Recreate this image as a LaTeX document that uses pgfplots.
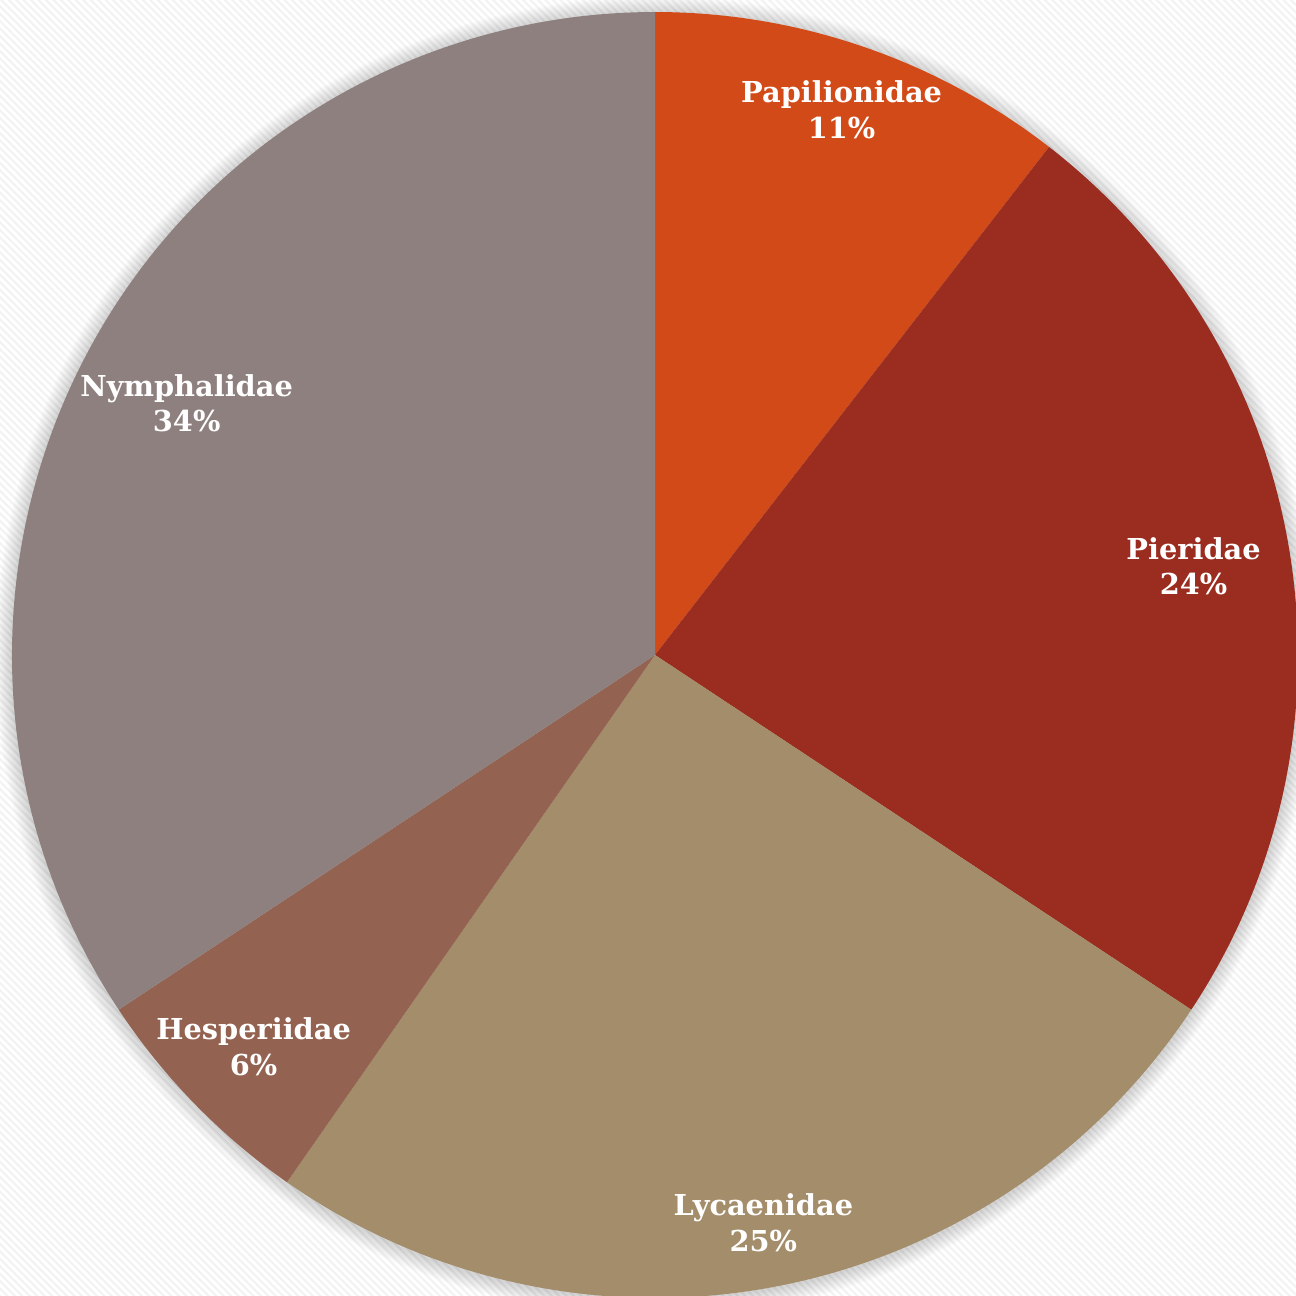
\documentclass[border=0pt]{standalone}
\usepackage{pgfplots}
\usepackage{pgfplotstable}
\pgfplotsset{compat=1.18}
\usepackage{fontspec}
\newfontfamily\labelfont{DejaVu Serif}
\usetikzlibrary{patterns.meta}

\definecolor{slice0}{HTML}{D24A18}
\definecolor{slice1}{HTML}{9A2D1F}
\definecolor{slice2}{HTML}{A48D6A}
\definecolor{slice3}{HTML}{946251}
\definecolor{slice4}{HTML}{8E807E}

\pgfplotstableread{
name          value  pct  lr
Papilionidae  10.5   11   0.896
Pieridae      23.8   24   0.849
Lycaenidae    25.4   25   0.899
Hesperiidae   6.0    6    0.872
Nymphalidae   34.3   34   0.827
}\pietable

\begin{document}
\begin{tikzpicture}
% cumulative angles from the data (clockwise from 12 o'clock)
\xdef\cum{90}
\foreach \i in {0,...,4}{%
  \pgfplotstablegetelem{\i}{value}\of\pietable \let\v\pgfplotsretval
  \pgfplotstablegetelem{\i}{lr}\of\pietable \let\lr\pgfplotsretval
  \pgfplotstablegetelem{\i}{name}\of\pietable \let\nm\pgfplotsretval
  \pgfplotstablegetelem{\i}{pct}\of\pietable \let\pc\pgfplotsretval
  \pgfmathsetmacro\e{\cum-3.6*\v}
  \pgfmathsetmacro\m{(\cum+\e)/2}
  \pgfmathsetmacro\lx{\lr*cos(\m)}
  \pgfmathsetmacro\ly{\lr*sin(\m)}
  \expandafter\xdef\csname sA\i\endcsname{\cum}
  \expandafter\xdef\csname eA\i\endcsname{\e}
  \expandafter\xdef\csname lX\i\endcsname{\lx}
  \expandafter\xdef\csname lY\i\endcsname{\ly}
  \expandafter\xdef\csname nM\i\endcsname{\nm}
  \expandafter\xdef\csname pC\i\endcsname{\pc}
  \xdef\cum{\e}
}
\begin{axis}[
  scale only axis,
  x=6.43cm, y=6.43cm,
  xmin=-1.0187, xmax=0.9969,
  ymin=-0.9969, ymax=1.0187,
  hide axis,
  clip=true,
]
\fill[white] (rel axis cs:0,0) rectangle (rel axis cs:1,1);
\fill[pattern={Lines[angle=-45,distance=1.5pt,line width=0.55pt]}, pattern color=black!5]
  (rel axis cs:0,0) rectangle (rel axis cs:1,1);
% soft shadow
\pgfplotsinvokeforeach{6.442,6.454,6.466,6.478,6.490,6.502,6.514,6.526,6.538,6.550,6.562,6.574,6.586,6.598}{
  \fill[black, opacity=0.011] (axis cs:0,-0.002) circle[radius=#1cm];
}
\pgfplotsinvokeforeach{0,1,2,3,4}{
  \edef\temp{\noexpand\fill[slice#1] (axis cs:0,0) -- ++(\csname sA#1\endcsname:6.43cm)
     arc[start angle=\csname sA#1\endcsname, end angle=\csname eA#1\endcsname, radius=6.43cm] -- cycle;}
  \temp
}
\pgfplotsinvokeforeach{0,1,2,3,4}{
  \edef\temp{\noexpand\node[text=white, align=center, font=\noexpand\labelfont\noexpand\bfseries\noexpand\fontsize{8.2}{10.2}\noexpand\selectfont]
    at (axis cs:\csname lX#1\endcsname,\csname lY#1\endcsname)
    {\csname nM#1\endcsname\noexpand\\\csname pC#1\endcsname\noexpand\%};}
  \temp
}
\end{axis}
\pgfresetboundingbox
\useasboundingbox (current axis.south west) rectangle (current axis.north east);
\end{tikzpicture}
\end{document}
